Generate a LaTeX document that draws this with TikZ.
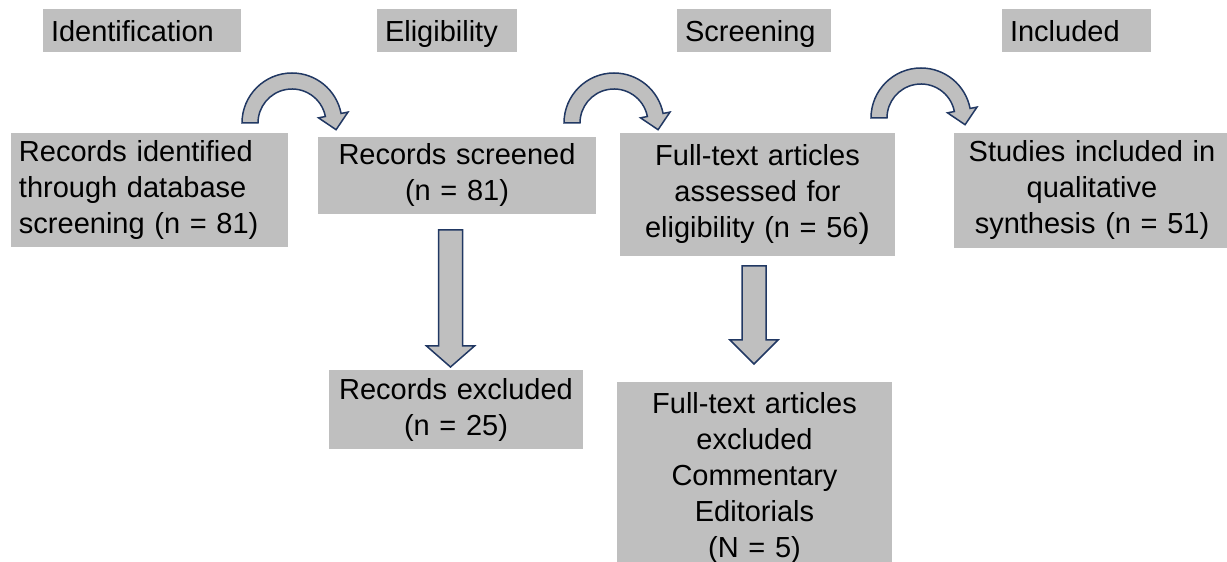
\documentclass[tikz,border=0pt]{standalone}
\usepackage{fontspec}
\setmainfont{Liberation Sans}
\usepackage{xcolor}
\usepackage{tikz}
\usetikzlibrary{calc}
\definecolor{boxgray}{rgb}{0.75, 0.75, 0.75}
\definecolor{navy}{rgb}{0.13, 0.22, 0.39}
\newcommand{\curvedarrow}[1]{%
	\draw[blk] ($(#1)+(180:50)$) arc[start angle=180, end angle=11, radius=50pt]
		-- ($(#1)+(11:57)$) -- ($(#1)+(11:42)+(-79:15)$) -- ($(#1)+(11:27)$)
		-- ($(#1)+(11:34)$) arc[start angle=11, end angle=180, radius=34pt] -- cycle;}
\newcommand{\blockdown}[3]{%
	\draw[blk] ($(#1)+(-12,0)$) -- ++(0,-#2) -- ++(-12,0) -- ++(24,-#3)
		-- ++(24,#3) -- ++(-12,0) -- ++(0,#2) -- cycle;}

\begin{document}
\begin{tikzpicture}[x=1pt, y=1pt,
					every node/.style = {fill=boxgray, inner xsep=8pt,
						font=\fontsize{29}{36}\selectfont},
					hdr/.style = {align=left, inner ysep=0pt, minimum height=43pt,
						text height=28pt, text depth=5.6pt},
					box/.style = {align=center, inner ysep=0pt},
					blk/.style = {fill=boxgray, draw=navy, line width=1.5pt}]
	\useasboundingbox (0,0) rectangle (1227,562);
	\clip (0,0) rectangle (1227,562);
	\node[hdr, text width=182pt] (idh) at (142,531.5) {Identification};
	\node[hdr, text width=124pt] (elh) at (447,531.5) {Eligibility};
	\node[hdr, text width=138pt] (sch) at (754,531.5) {Screening};
	\node[hdr, text width=133pt] (inh) at (1076.5,531.5) {Included};
	\node[box, align=left, text width=261pt, minimum height=114pt] (rid) at (149.5,372)
		{Records identified \\ through database \\ screening (n = 81)};
	\node[box, text width=262pt, minimum height=77pt] (scr) at (457,386.5)
		{Records screened \\ (n = 81)};
	\node[box, text width=259pt, minimum height=123pt] (asd) at (757.5,367.5)
		{Full-text articles \\ assessed for \\ eligibility (n = 56{\fontsize{34}{36}\selectfont)}};
	\node[box, text width=260pt, minimum height=115pt] (stu) at (1092,371.5)
		{Studies included in \\ qualitative \\ synthesis (n = 51)};
	\node[box, text width=238pt, minimum height=79pt] (rex) at (456,152.5)
		{Records excluded \\ (n = 25)};
	\node[box, anchor=north, inner ysep=10pt, text width=259pt] (fex) at (754.5,180)
		{Full-text articles \\ excluded \\ Commentary \\ Editorials \\ (N = 5)};
	\coordinate (c1) at (292,439);
	\coordinate (c2) at (614,439);
	\coordinate (c3) at (921,444);
	\coordinate (d1) at (450.5,332);
	\coordinate (d2) at (754,296);
	\curvedarrow{c1}
	\curvedarrow{c2}
	\curvedarrow{c3}
	\blockdown{d1}{116}{21}
	\blockdown{d2}{74}{24}
\end{tikzpicture}
\end{document}
